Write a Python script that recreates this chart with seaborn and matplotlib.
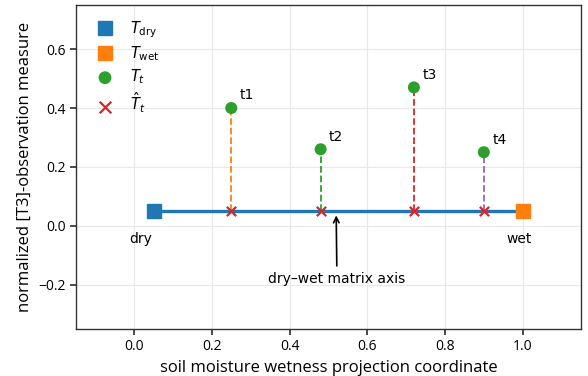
import matplotlib
matplotlib.use("Agg")
import matplotlib.pyplot as plt
import seaborn as sns
import pandas as pd

# data
dry_point = (0.05, 0.05)
wet_point = (1.0, 0.05)
obs_labels = ["t1", "t2", "t3", "t4"]
obs_x = [0.25, 0.48, 0.72, 0.90]
obs_y = [0.40, 0.26, 0.47, 0.25]
proj_y = [0.05, 0.05, 0.05, 0.05]
x_ticks = [0.0, 0.2, 0.4, 0.6, 0.8, 1.0]
y_ticks = [-0.2, 0.0, 0.2, 0.4, 0.6]

sns.set_theme(style="ticks")
plt.rcParams.update({"text.color": "black", "axes.labelcolor": "black",
                     "xtick.color": "black", "ytick.color": "black"})
pal = sns.color_palette("tab10")

fig, ax = plt.subplots(figsize=(5.88, 3.76), dpi=100)
fig.subplots_adjust(left=0.129, right=0.988, top=0.987, bottom=0.125)

# axis line between endpoints
axis_df = pd.DataFrame({"x": [dry_point[0], wet_point[0]], "y": [dry_point[1], wet_point[1]]})
sns.lineplot(data=axis_df, x="x", y="y", ax=ax, color=pal[0], lw=2.4, zorder=2)

# dashed projection lines
for i, (x, y, py) in enumerate(zip(obs_x, obs_y, proj_y)):
    ax.plot([x, x], [py, y], ls="--", color=pal[(i + 1) % 10], lw=1.3, zorder=1)

ax.plot([dry_point[0]], [dry_point[1]], marker="s", ms=10, color=pal[0], ls="none",
        label=r"$T_{\rm dry}$", zorder=4)
ax.plot([wet_point[0]], [wet_point[1]], marker="s", ms=10, color=pal[1], ls="none",
        label=r"$T_{\rm wet}$", zorder=4)
sns.scatterplot(x=obs_x, y=obs_y, ax=ax, color=pal[2], s=75, edgecolor="none",
                label=r"$T_t$", zorder=4)
sns.scatterplot(x=obs_x, y=proj_y, ax=ax, color=pal[3], marker="x", s=45,
                linewidth=1.6, label=r"$\hat{T}_t$", zorder=5)

for lab, x, y in zip(obs_labels, obs_x, obs_y):
    ax.annotate(lab, (x, y), xytext=(6, 4), textcoords="offset points",
                ha="left", va="bottom", fontsize=10, family="DejaVu Sans")

ax.text(0.018, -0.045, "dry", ha="center", va="center", fontsize=10, family="DejaVu Sans")
ax.text(0.99, -0.045, "wet", ha="center", va="center", fontsize=10, family="DejaVu Sans")
ax.annotate("dry–wet matrix axis", xy=(0.52, 0.045), xytext=(0.522, -0.18),
            ha="center", va="center", fontsize=10, family="DejaVu Sans",
            arrowprops=dict(arrowstyle="->", color="black", lw=1.2))

ax.set_xlim(-0.15, 1.15)
ax.set_ylim(-0.35, 0.75)
ax.set_xticks(x_ticks)
ax.set_yticks(y_ticks)
ax.grid(True, color="#e8e8e8", lw=0.8)
ax.set_axisbelow(True)
for s in ax.spines.values():
    s.set_visible(True)
    s.set_color("#333333")
    s.set_linewidth(1.0)
ax.tick_params(labelsize=10, color="#333333", length=4)
for t in ax.get_xticklabels() + ax.get_yticklabels():
    t.set_family("Open Sans")
ax.set_xlabel("soil moisture wetness projection coordinate", fontsize=12, family="Open Sans")
ax.set_ylabel("normalized [T3]-observation measure", fontsize=12, family="Open Sans")

leg = ax.legend(loc="upper left", frameon=False, fontsize=10.5, handletextpad=0.7,
                borderaxespad=0.6, labelspacing=0.3)
handles = leg.legend_handles
handles[2].set_sizes([85])
handles[3].set_sizes([70])

fig.savefig("out.png", dpi=100)
